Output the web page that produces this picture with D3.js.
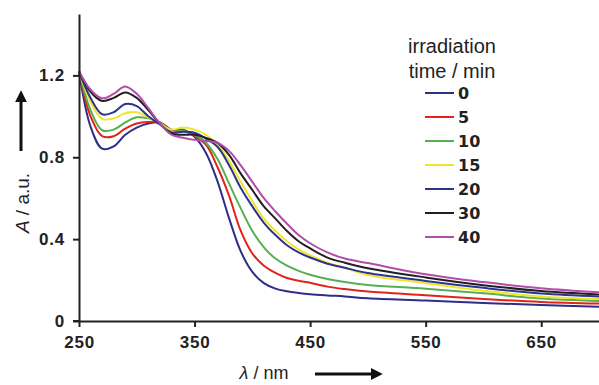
<!DOCTYPE html>
<html>
<head>
<meta charset="utf-8">
<script src="https://cdn.jsdelivr.net/npm/d3@7"></script>
<style>
  body { margin: 0; background: #fff; }
  svg { display: block; }
</style>
</head>
<body>
<div id="chart"></div>
<script>
const wavelengths = [250, 260, 270, 280, 290, 300, 310, 320, 330, 340, 350, 360, 370, 380, 390,
  400, 410, 420, 430, 440, 450, 465, 480, 500, 550, 600, 650, 700];

const times = ['0', '5', '10', '15', '20', '30', '40'];
const colors = ['#2e2d88', '#e2231a', '#56b050', '#f0e52c', '#2b3591', '#231f20', '#b24dab'];

const abs0  = [1.22, 0.95, 0.842, 0.853, 0.91, 0.945, 0.965, 0.97, 0.935, 0.935, 0.9, 0.82, 0.68, 0.5, 0.34,
  0.24, 0.185, 0.158, 0.145, 0.137, 0.131, 0.125, 0.12, 0.111, 0.1, 0.088, 0.078, 0.07];
const abs5  = [1.22, 1.0, 0.903, 0.903, 0.94, 0.965, 0.972, 0.97, 0.93, 0.93, 0.905, 0.86, 0.75, 0.61, 0.44,
  0.33, 0.27, 0.235, 0.21, 0.197, 0.187, 0.168, 0.156, 0.144, 0.126, 0.108, 0.093, 0.085];
const abs10 = [1.22, 1.03, 0.932, 0.935, 0.97, 0.995, 0.99, 0.97, 0.925, 0.93, 0.91, 0.87, 0.79, 0.67, 0.55,
  0.44, 0.36, 0.305, 0.27, 0.245, 0.226, 0.205, 0.19, 0.176, 0.158, 0.135, 0.11, 0.098];
const abs15 = [1.22, 1.07, 0.988, 0.99, 1.015, 1.02, 0.995, 0.965, 0.935, 0.945, 0.935, 0.91, 0.86, 0.78, 0.68,
  0.585, 0.5, 0.44, 0.39, 0.35, 0.32, 0.285, 0.26, 0.225, 0.185, 0.148, 0.12, 0.108];
const abs20 = [1.22, 1.09, 1.01, 1.02, 1.06, 1.05, 1.0, 0.96, 0.92, 0.925, 0.92, 0.89, 0.85, 0.76, 0.65,
  0.56, 0.48, 0.42, 0.37, 0.335, 0.31, 0.28, 0.26, 0.234, 0.196, 0.162, 0.134, 0.12];
const abs30 = [1.22, 1.12, 1.075, 1.09, 1.117, 1.09, 1.03, 0.965, 0.915, 0.91, 0.91, 0.895, 0.87, 0.81, 0.72,
  0.64, 0.56, 0.5, 0.44, 0.39, 0.355, 0.31, 0.285, 0.258, 0.213, 0.175, 0.147, 0.13];
const abs40 = [1.22, 1.13, 1.088, 1.11, 1.146, 1.11, 1.04, 0.965, 0.91, 0.895, 0.885, 0.88, 0.87, 0.83, 0.76,
  0.68, 0.6, 0.535, 0.475, 0.42, 0.38, 0.335, 0.305, 0.283, 0.228, 0.19, 0.16, 0.14];

const spectra = [abs0, abs5, abs10, abs15, abs20, abs30, abs40];

const xTicks = [250, 350, 450, 550, 650];
const yTicks = [0, 0.4, 0.8, 1.2];

const width = 599, height = 385;
const margin = { top: 14, right: 0, bottom: 64, left: 79 };

const svg = d3.select('#chart').append('svg')
  .attr('width', width).attr('height', height);

const xScale = d3.scaleLinear().domain([250, 700]).range([margin.left, width - margin.right]);
const yScale = d3.scaleLinear().domain([0, 1.5]).range([height - margin.bottom, margin.top]);

const tickFont = '"Liberation Sans", Arial, sans-serif';

// curves
const line = d3.line()
  .x((d, i) => xScale(wavelengths[i]))
  .y(d => yScale(d))
  .curve(d3.curveCatmullRom.alpha(0.5));

const plot = svg.append('g');
spectra.forEach((s, k) => {
  plot.append('path')
    .datum(s)
    .attr('d', line)
    .attr('fill', 'none')
    .attr('stroke', colors[k])
    .attr('stroke-width', 2);
});

// axes
const xAxis = d3.axisBottom(xScale).tickValues(xTicks).tickSize(6).tickSizeOuter(0).tickFormat(d3.format('d'));
const yAxis = d3.axisLeft(yScale).tickValues(yTicks).tickSize(6).tickSizeOuter(0).tickFormat(d => d === 0 ? '0' : d3.format('.1f')(d));

const gx = svg.append('g').attr('transform', `translate(0,${yScale(0)})`).call(xAxis);
const gy = svg.append('g').attr('transform', `translate(${xScale(250)},0)`).call(yAxis);

[gx, gy].forEach(g => {
  g.select('.domain').attr('stroke', '#222').attr('stroke-width', 2);
  g.selectAll('.tick line').attr('stroke', '#222').attr('stroke-width', 2);
  g.selectAll('.tick text')
    .attr('fill', '#222')
    .style('font-family', tickFont)
    .style('font-weight', 'bold')
    .style('font-size', '17px')
    .style('letter-spacing', '0.8px');
});
gx.selectAll('.tick text').attr('dy', '0.71em').attr('y', 15);
gy.selectAll('.tick text').attr('x', -14);
// the 0 tick also sticks out left of the y axis
gx.append('line').attr('x1', xScale(250) - 6).attr('x2', xScale(250))
  .attr('stroke', '#222').attr('stroke-width', 2);

// axis titles
const yTitle = svg.append('text')
  .attr('transform', `translate(29,203) rotate(-90)`)
  .attr('text-anchor', 'middle')
  .style('font-family', tickFont)
  .style('font-size', '19px')
  .attr('fill', '#222');
yTitle.append('tspan').style('font-style', 'italic').text('A');
yTitle.append('tspan').text(' / a.u.');

const xTitle = svg.append('text')
  .attr('x', 264).attr('y', 379)
  .attr('text-anchor', 'middle')
  .style('font-family', tickFont)
  .style('font-size', '18px')
  .attr('fill', '#222');
xTitle.append('tspan').style('font-style', 'italic').text('λ');
xTitle.append('tspan').text(' / nm');

// arrows
const defs = svg.append('defs');
defs.append('marker')
  .attr('id', 'head')
  .attr('viewBox', '0 0 10 10')
  .attr('refX', 1).attr('refY', 5)
  .attr('markerWidth', 4).attr('markerHeight', 4)
  .attr('orient', 'auto')
  .append('path').attr('d', 'M0,0 L10,5 L0,10 Z').attr('fill', '#111');

svg.append('line')
  .attr('x1', 21).attr('y1', 151).attr('x2', 21).attr('y2', 101)
  .attr('stroke', '#111').attr('stroke-width', 3)
  .attr('marker-end', 'url(#head)');
svg.append('line')
  .attr('x1', 315).attr('y1', 374).attr('x2', 372).attr('y2', 374)
  .attr('stroke', '#111').attr('stroke-width', 3)
  .attr('marker-end', 'url(#head)');

// legend
const legend = svg.append('g');
legend.append('text').attr('x', 452).attr('y', 53).attr('text-anchor', 'middle')
  .style('font-family', tickFont).style('font-size', '20px').attr('fill', '#222')
  .text('irradiation');
legend.append('text').attr('x', 452).attr('y', 78).attr('text-anchor', 'middle')
  .style('font-family', tickFont).style('font-size', '20px').attr('fill', '#222')
  .text('time / min');

const rowY = d3.scalePoint().domain(times).range([93, 237]);
times.forEach((t, k) => {
  legend.append('line')
    .attr('x1', 425).attr('x2', 454)
    .attr('y1', rowY(t)).attr('y2', rowY(t))
    .attr('stroke', colors[k]).attr('stroke-width', 2);
  legend.append('text')
    .attr('x', 458).attr('y', rowY(t)).attr('dy', '0.36em')
    .style('font-family', '"DejaVu Sans", Verdana, sans-serif')
    .style('font-weight', 'bold').style('font-size', '16px')
    .attr('fill', '#222')
    .text(t);
});
</script>
</body>
</html>
